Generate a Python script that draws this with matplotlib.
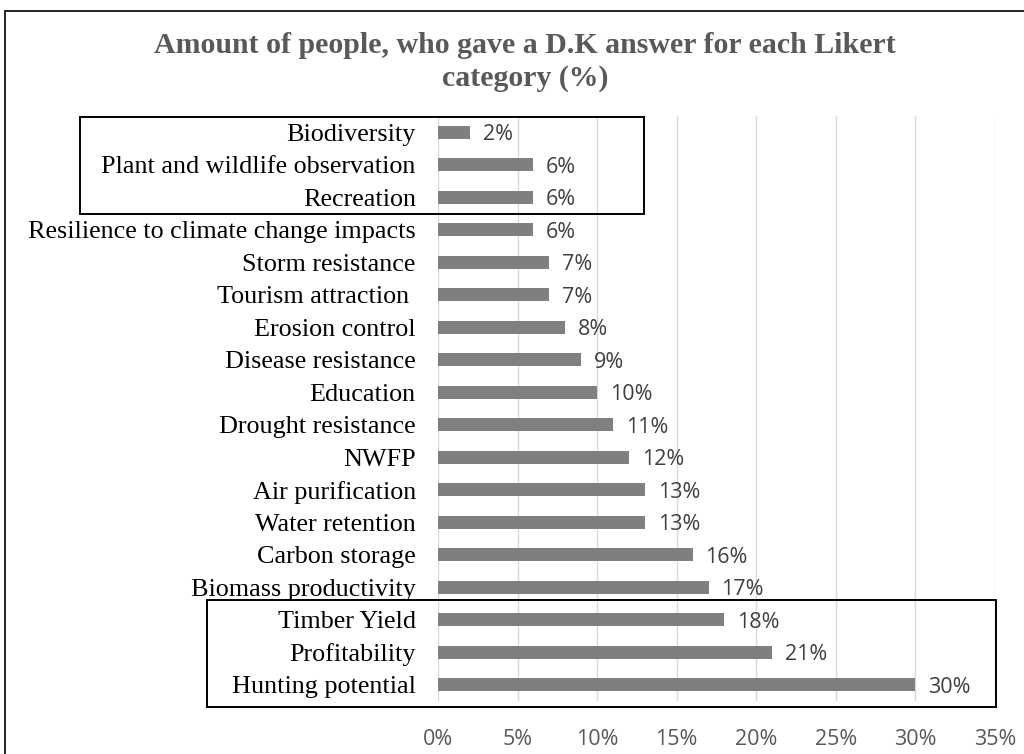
import matplotlib.pyplot as plt
from matplotlib.patches import Rectangle

# Categories from top to bottom.
categories = [
    'Biodiversity', 'Plant and wildlife observation', 'Recreation',
    'Resilience to climate change impacts', 'Storm resistance',
    'Tourism attraction ', 'Erosion control', 'Disease resistance',
    'Education', 'Drought resistance', 'NWFP', 'Air purification',
    'Water retention', 'Carbon storage', 'Biomass productivity',
    'Timber Yield', 'Profitability', 'Hunting potential',
]
dk_share = [2, 6, 6, 6, 7, 7, 8, 9, 10, 11, 12, 13, 13, 16, 17, 18, 21, 30]
x_ticks = [0, 5, 10, 15, 20, 25, 30, 35]

W, H = 1024, 754
fig = plt.figure(figsize=(W / 100, H / 100), dpi=100)
ax = fig.add_axes([438 / W, 1 - 701 / H, (995 - 438) / W, (701 - 116) / H])

pos = list(range(len(categories)))
ax.barh(pos, dk_share, height=0.4, color='#7f7f7f', zorder=3)
ax.set_ylim(len(categories) - 0.5, -0.5)
ax.set_xlim(0, 35)

for p, v in zip(pos, dk_share):
    ax.text(v + 0.8, p + 0.08, f'{v}%', va='center', ha='left',
            fontsize=15.5, color='#404040', family='Open Sans')

ax.set_yticks(pos)
ax.set_yticklabels(categories, fontsize=18.8, family='Liberation Serif', color='black')
ax.tick_params(axis='y', length=0, pad=16)
ax.set_xticks(x_ticks)
ax.set_xticklabels([f'{t}%' for t in x_ticks], fontsize=15.5, family='Open Sans', color='#595959')
ax.tick_params(axis='x', length=0, pad=20)
ax.grid(axis='x', color='#d9d9d9', linewidth=1, zorder=0)
for s in ax.spines.values():
    s.set_visible(False)

fig.text(525 / W, 1 - 62 / H, 'Amount of people, who gave a D.K answer for each Likert\ncategory (%)',
         ha='center', va='center', fontsize=21.5, fontweight='bold', family='Liberation Serif',
         color='#595959', linespacing=1.3)

# boxes around the top three and bottom three categories, plus outer frame
def fig_box(x0, y0, x1, y1, lw=1.4):
    fig.patches.append(Rectangle((x0 / W, 1 - y1 / H), (x1 - x0) / W, (y1 - y0) / H,
                                 transform=fig.transFigure, fill=False,
                                 edgecolor='black', linewidth=lw))

fig_box(80, 117, 644, 214)
fig_box(207, 600, 996, 707)
fig_box(5, 11, W + 10, H + 10, lw=1.2)

fig.savefig('out.png', dpi=100, facecolor='white')
